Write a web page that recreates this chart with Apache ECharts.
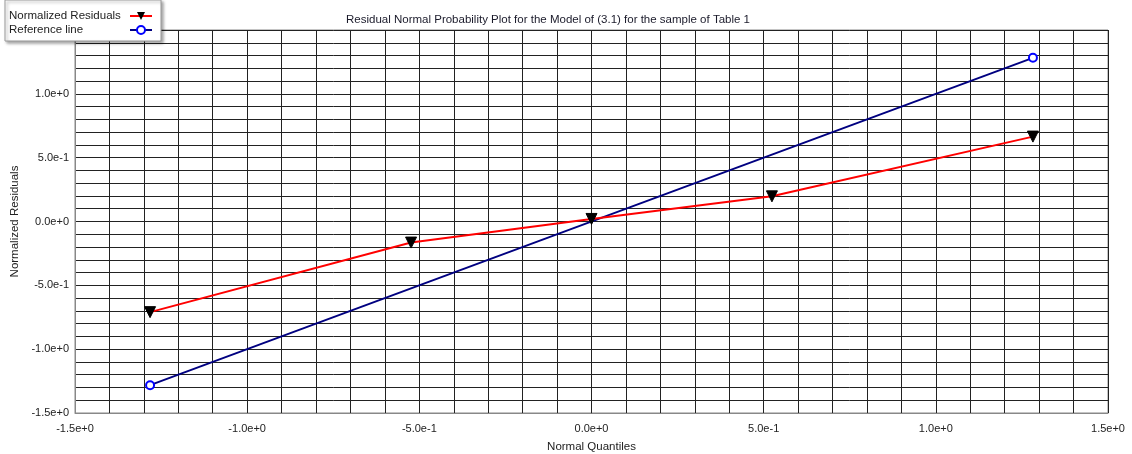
<!DOCTYPE html>
<html>
<head>
<meta charset="utf-8">
<script src="https://cdn.jsdelivr.net/npm/echarts@6/dist/echarts.min.js"></script>
<style>
html,body{margin:0;padding:0;background:#fff;}
#chart{width:1132px;height:454px;}
</style>
</head>
<body>
<div id="chart"></div>
<script>
// Data
const quantiles = [-1.282, -0.524, 0.0, 0.524, 1.282];
const residuals = [-0.71, -0.165, 0.02, 0.197, 0.665];
const refX = [-1.282, 1.282];
const refY = [-1.282, 1.282];
const xTickValues = [-1.5, -1.0, -0.5, 0.0, 0.5, 1.0, 1.5];
const xTickLabels = ['-1.5e+0', '-1.0e+0', '-5.0e-1', '0.0e+0', '5.0e-1', '1.0e+0', '1.5e+0'];
const yTickValues = [-1.5, -1.0, -0.5, 0.0, 0.5, 1.0];
const yTickLabels = ['-1.5e+0', '-1.0e+0', '-5.0e-1', '0.0e+0', '5.0e-1', '1.0e+0'];

function lookup(vals, labels, v) {
  for (let i = 0; i < vals.length; i++) {
    if (Math.abs(vals[i] - v) < 1e-6) return labels[i];
  }
  return '';
}

const font = 'Liberation Sans, Arial, sans-serif';
const chart = echarts.init(document.getElementById('chart'), null, {renderer: 'canvas'});
chart.setOption({
  animation: false,
  backgroundColor: '#fff',
  title: {
    text: 'Residual Normal Probability Plot for the Model of (3.1) for the sample of Table 1',
    left: 543, top: 9, textAlign: 'center',
    textStyle: {fontFamily: font, fontSize: 11.5, fontWeight: 'normal', color: '#1a1a2a'}
  },
  legend: {
    left: 5, top: 0, orient: 'vertical', align: 'right',
    padding: [10, 8, 5, 4], itemGap: 2, itemWidth: 22, itemHeight: 10,
    backgroundColor: '#fff', borderColor: '#999', borderWidth: 1,
    shadowColor: 'rgba(0,0,0,0.35)', shadowBlur: 3, shadowOffsetX: 2, shadowOffsetY: 2,
    formatter: name => '{a|' + name + '}',
    textStyle: {
      fontFamily: font, fontSize: 11.5, color: '#222', lineHeight: 12,
      rich: {a: {fontFamily: font, fontSize: 11.5, color: '#222', width: 116, align: 'left', lineHeight: 12}}
    },
    data: ['Normalized Residuals', 'Reference line']
  },
  grid: {left: 75, right: 24, top: 30, bottom: 41, show: true, borderColor: '#888', borderWidth: 1, outerBoundsMode: 'none', containLabel: false},
  xAxis: {
    type: 'value', min: -1.5, max: 1.5, interval: 0.1,
    name: 'Normal Quantiles', nameLocation: 'middle', nameGap: 28,
    nameTextStyle: {fontFamily: font, fontSize: 11.5, color: '#222'},
    axisLine: {show: true, onZero: false, lineStyle: {color: '#888'}},
    axisTick: {show: false},
    axisLabel: {
      fontFamily: font, fontSize: 11, color: '#222', margin: 10, showMinLabel: true, showMaxLabel: true,
      formatter: v => lookup(xTickValues, xTickLabels, v)
    },
    splitLine: {show: true, lineStyle: {color: '#222', width: 1}}
  },
  yAxis: {
    type: 'value', min: -1.5, max: 1.5, interval: 0.1,
    name: 'Normalized Residuals', nameLocation: 'middle', nameGap: 53,
    nameTextStyle: {fontFamily: font, fontSize: 11.5, color: '#222'},
    axisLine: {show: true, onZero: false, lineStyle: {color: '#888'}},
    axisTick: {show: false},
    axisLabel: {
      fontFamily: font, fontSize: 11, color: '#222', margin: 6, showMinLabel: true, showMaxLabel: true,
      padding: [3, 0, 0, 0],
      formatter: v => lookup(yTickValues, yTickLabels, v)
    },
    splitLine: {show: true, lineStyle: {color: '#222', width: 1}}
  },
  series: [
    {
      name: 'Normalized Residuals', type: 'line',
      data: quantiles.map((q, i) => [q, residuals[i]]),
      symbol: 'triangle', symbolRotate: 180, symbolSize: 11, showAllSymbol: true,
      lineStyle: {color: '#ff0000', width: 2},
      itemStyle: {color: '#000', borderColor: '#000'},
      z: 3
    },
    {
      name: 'Reference line', type: 'line',
      data: refX.map((x, i) => [x, refY[i]]),
      symbol: 'emptyCircle', symbolSize: 8,
      lineStyle: {color: '#000080', width: 2},
      itemStyle: {color: '#0000ff', borderColor: '#0000ff', borderWidth: 1},
      z: 2
    }
  ]
});
</script>
</body>
</html>
